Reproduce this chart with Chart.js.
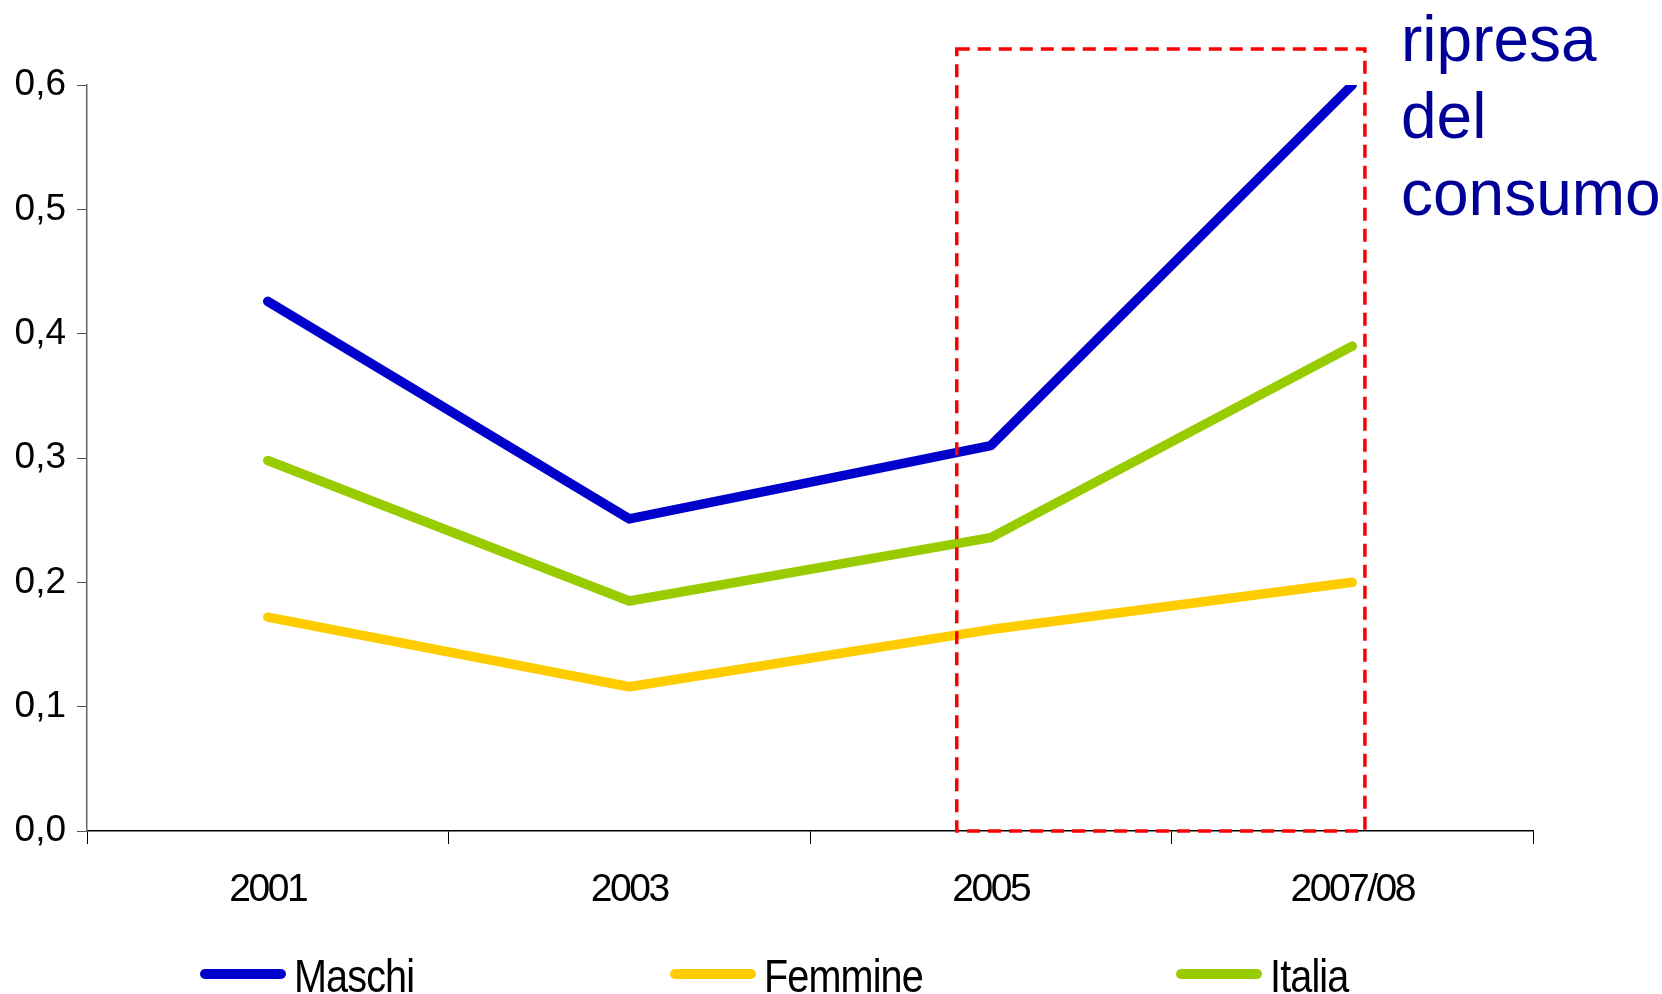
<!DOCTYPE html>
<html>
<head>
<meta charset="utf-8">
<script src="https://cdn.jsdelivr.net/npm/chart.js@4/dist/chart.umd.min.js"></script>
<style>
  html, body { margin: 0; padding: 0; background: #fff; }
  #wrap { width: 1662px; height: 994px; position: relative; }
</style>
</head>
<body>
<div id="wrap"><canvas id="chart" width="1662" height="994"></canvas></div>
<script>
const years = ['2001', '2003', '2005', '2007/08'];
const maschi = [0.426, 0.251, 0.310, 0.600];
const femmine = [0.172, 0.116, 0.162, 0.200];
const italia = [0.298, 0.185, 0.236, 0.390];
const yTicks = [0, 0.1, 0.2, 0.3, 0.4, 0.5, 0.6];
const noteLines = ['ripresa', 'del', 'consumo'];

// dashed box around the last two years, in category / value units
const boxFrom = 1.906, boxTo = 3.035, boxTop = 0.629;

const boxPlugin = {
    id: 'boxPlugin',
    beforeDraw(chart) {
        // narrow look for the year labels
        const xs = chart.scales.x;
        if (xs && !xs._narrowed) {
            const orig = xs.drawLabels;
            xs.drawLabels = function (area) {
                this.ctx.save();
                this.ctx.letterSpacing = '-2.5px';
                orig.call(this, area);
                this.ctx.restore();
            };
            xs._narrowed = true;
        }
    },
    afterDatasetsDraw(chart) {
        const ctx = chart.ctx;
        const x = chart.scales.x, y = chart.scales.y;
        const l = x.getPixelForValue(boxFrom), r = x.getPixelForValue(boxTo);
        const t = y.getPixelForValue(boxTop), b = y.getPixelForValue(0);
        ctx.save();
        ctx.strokeStyle = '#ff0000';
        ctx.lineWidth = 3.5;
        ctx.setLineDash([13, 8]);
        ctx.strokeRect(l, t, r - l, b - t);
        ctx.restore();

        // annotation text
        ctx.save();
        ctx.fillStyle = '#000099';
        ctx.font = '64px "Liberation Sans", Arial, sans-serif';
        ctx.textBaseline = 'alphabetic';
        noteLines.forEach((s, i) => {
            ctx.fillText(s, 1401, 61 + i * 77);
        });
        ctx.restore();
    }
};

// legend drawn by hand so the items sit where the original has them
const legendPlugin = {
    id: 'legendPlugin',
    afterDraw(chart) {
        const ctx = chart.ctx;
        const lineStarts = [201, 671, 1177];
        chart.data.datasets.forEach((ds, i) => {
            const x0 = lineStarts[i];
            ctx.save();
            ctx.strokeStyle = ds.borderColor;
            ctx.lineWidth = 10;
            ctx.lineCap = 'round';
            ctx.beginPath();
            ctx.moveTo(x0 + 4, 974);
            ctx.lineTo(x0 + 80, 974);
            ctx.stroke();
            ctx.fillStyle = '#000';
            ctx.font = '46px "Liberation Sans", sans-serif';
            ctx.textBaseline = 'alphabetic';
            ctx.letterSpacing = '-1px';
            ctx.translate(x0 + 93, 992);
            ctx.scale(0.86, 1);
            ctx.fillText(ds.label, 0, 0);
            ctx.restore();
        });
    }
};

const lineStyle = {
    borderWidth: 9.5,
    pointRadius: 0,
    pointHoverRadius: 0,
    tension: 0,
    fill: false,
    borderCapStyle: 'round',
    borderJoinStyle: 'round'
};

new Chart(document.getElementById('chart'), {
    type: 'line',
    data: {
        labels: years,
        datasets: [
            Object.assign({ label: 'Maschi', data: maschi, borderColor: '#0000cc', backgroundColor: '#0000cc' }, lineStyle),
            Object.assign({ label: 'Femmine', data: femmine, borderColor: '#ffcc00', backgroundColor: '#ffcc00' }, lineStyle),
            Object.assign({ label: 'Italia', data: italia, borderColor: '#99cc00', backgroundColor: '#99cc00' }, lineStyle)
        ]
    },
    options: {
        responsive: false,
        animation: false,
        events: [],
        layout: { padding: { top: 85, right: 129, left: 0, bottom: 0 } },
        plugins: {
            legend: { display: false },
            tooltip: { enabled: false }
        },
        scales: {
            x: {
                offset: true,
                grid: { offset: true, drawOnChartArea: false, drawTicks: true, tickLength: 13, color: '#000', lineWidth: 1 },
                border: { color: '#000', width: 1.5 },
                ticks: {
                    color: '#000',
                    padding: 23,
                    maxRotation: 0,
                    font: { family: '"Liberation Sans", sans-serif', size: 39 }
                },
                afterFit(scale) { scale.height = 163; }
            },
            y: {
                min: 0,
                max: 0.6,
                afterBuildTicks(scale) { scale.ticks = yTicks.map(v => ({ value: v })); },
                grid: { drawOnChartArea: false, drawTicks: true, tickLength: 10, color: '#555', lineWidth: 1 },
                border: { color: '#666', width: 1.5 },
                ticks: {
                    color: '#000',
                    padding: 11,
                    font: { family: '"Liberation Sans", Arial, sans-serif', size: 37 },
                    callback: (v) => Number(v).toFixed(1).replace('.', ',')
                },
                afterFit(scale) { scale.width = 87; }
            }
        }
    },
    plugins: [boxPlugin, legendPlugin]
});
</script>
</body>
</html>
